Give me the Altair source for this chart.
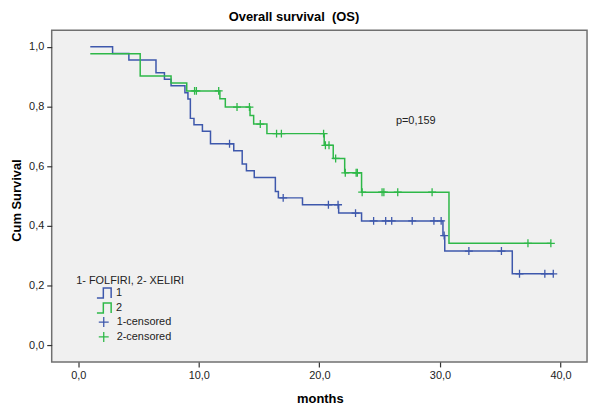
import altair as alt
import pandas as pd

# ---- data ----
groups = ["1", "2"]
censor_labels = ["1-censored", "2-censored"]
colors = ["#3E58AC", "#2EB848"]

start_t = [1.0, 1.0]
start_s = [1.0, 0.976]

# group 1 (FOLFIRI): event times and survival after each event
g1_event_t = [2.85, 4.2, 6.45, 7.15, 7.7, 8.85, 9.1, 9.3, 9.6, 10.3, 10.97,
              12.9, 13.6, 13.95, 14.6, 16.35, 16.6, 18.6, 21.6, 23.5, 30.25,
              30.4, 36.0]
g1_event_s = [0.977, 0.955, 0.913, 0.891, 0.869, 0.846, 0.825, 0.760, 0.739,
              0.717, 0.675, 0.652, 0.607, 0.585, 0.562, 0.515, 0.494, 0.471,
              0.443, 0.417, 0.368, 0.316, 0.240]
g1_censor_t = [12.55, 17.0, 20.75, 21.55, 23.0, 24.5, 25.5, 26.0, 27.7, 29.5,
               30.1, 30.35, 32.4, 35.1, 36.6, 38.7, 39.4]

# group 2 (XELIRI)
g2_event_t = [5.14, 7.7, 9.0, 11.75, 12.2, 14.25, 14.55, 15.65, 20.4, 21.15,
              22.1, 23.5, 30.75]
g2_event_s = [0.902, 0.878, 0.852, 0.826, 0.798, 0.770, 0.741, 0.709, 0.670,
              0.626, 0.578, 0.513, 0.342]
g2_censor_t = [9.65, 9.8, 11.65, 13.17, 14.2, 15.1, 16.45, 16.85, 20.35, 20.5,
               20.8, 21.35, 22.15, 23.05, 23.15, 23.55, 25.2, 25.35, 26.5,
               29.35, 37.3, 39.2]

p_text = ["p=0,159"]
p_x = [26.35]
p_y = [0.751]

x_ticks = [0, 10, 20, 30, 40]
y_ticks = [0.0, 0.2, 0.4, 0.6, 0.8, 1.0]

# ---- tables ----
ev_t = [g1_event_t, g2_event_t]
ev_s = [g1_event_s, g2_event_s]
cen_t = [g1_censor_t, g2_censor_t]

line_rows, cens_rows = [], []
for i, g in enumerate(groups):
    pts = [(start_t[i], start_s[i])] + list(zip(ev_t[i], ev_s[i]))
    end_t = max(cen_t[i] + ev_t[i])
    pts.append((end_t, ev_s[i][-1]))
    for t, s in pts:
        line_rows.append({"time": t, "surv": s, "group": g})
    for ct in cen_t[i]:
        lvl = start_s[i]
        for et, es in zip(ev_t[i], ev_s[i]):
            if et <= ct:
                lvl = es
        cens_rows.append({"time": ct, "surv": lvl, "label": censor_labels[i]})

line_df = pd.DataFrame(line_rows)
cens_df = pd.DataFrame(cens_rows)
p_df = pd.DataFrame({"x": p_x, "y": p_y, "label": p_text})

FONT = "Liberation Sans"
step_path = "M-1,0.7L-0.1,0.7L-0.1,-0.7L1,-0.7L1,0.7"
plus_path = "M-1,0L1,0M0,-1L0,1"
label_expr = "replace(format(datum.value, '.1f'), '.', ',')"

x_scale = alt.Scale(domain=[-2.2, 42.2], nice=False, zero=False)
y_scale = alt.Scale(domain=[-0.055, 1.055], nice=False, zero=False)

x_enc = alt.X("time:Q", scale=x_scale,
              axis=alt.Axis(title="months", values=x_ticks, labelExpr=label_expr,
                            titleX=270, titleY=37, titleBaseline="middle",
                            titleAlign="center"))
y_enc = alt.Y("surv:Q", scale=y_scale,
              axis=alt.Axis(title="Cum Survival", values=y_ticks, labelExpr=label_expr,
                            titleX=-35.6, titleY=171, titleBaseline="middle",
                            titleAlign="center", titleAngle=270))

lines = alt.Chart(line_df).mark_line(interpolate="step-after", strokeWidth=1.5).encode(
    x=x_enc,
    y=y_enc,
    color=alt.Color("group:N",
                    scale=alt.Scale(domain=groups, range=colors),
                    legend=alt.Legend(title="1- FOLFIRI, 2- XELIRI", orient="none",
                                      legendX=24.7, legendY=246.5,
                                      symbolType=step_path, symbolSize=205,
                                      symbolOffset=20, labelOffset=4,
                                      symbolStrokeWidth=1.5, rowPadding=0,
                                      clipHeight=14.3, titlePadding=0)),
)

cens = alt.Chart(cens_df).mark_point(shape=plus_path, filled=False, size=64,
                                     strokeWidth=1.3, opacity=1).encode(
    x=alt.X("time:Q", scale=x_scale),
    y=alt.Y("surv:Q", scale=y_scale),
    color=alt.Color("label:N",
                    scale=alt.Scale(domain=censor_labels, range=colors),
                    legend=alt.Legend(title=None, orient="none",
                                      legendX=46.4, legendY=286.5,
                                      symbolType=plus_path, symbolSize=100,
                                      symbolOffset=0, labelOffset=7,
                                      symbolStrokeWidth=1.3, rowPadding=0,
                                      clipHeight=14.7)),
)

ptext = alt.Chart(p_df).mark_text(align="left", baseline="middle", fontSize=11,
                                  font=FONT, color="#222").encode(
    x=alt.X("x:Q", scale=x_scale),
    y=alt.Y("y:Q", scale=y_scale),
    text="label:N",
)

chart = alt.layer(lines, cens, ptext).resolve_scale(color="independent").properties(
    width=539,
    height=334,
    background="white",
    autosize=alt.AutoSizeParams(type="none"),
    padding={"left": 44, "top": 21, "right": 5, "bottom": 45},
    title=alt.TitleParams(text="Overall survival \u00a0(OS)", font=FONT, fontSize=13,
                          fontWeight="bold", color="#000", anchor="middle",
                          dx=-25.6, dy=13, offset=9, baseline="alphabetic"),
).configure_view(
    fill="#F0F0F0", stroke="#707070", strokeWidth=1.5
).configure_axis(
    grid=False, domain=False, labelFont=FONT, labelFontSize=11, labelColor="#222",
    tickColor="#333", tickSize=5, tickWidth=1.2, labelPadding=3,
    titleFont=FONT, titleFontSize=13, titleFontWeight="bold", titleColor="#000",
).configure_legend(
    labelFont=FONT, labelFontSize=11, labelColor="#222",
    titleFont=FONT, titleFontSize=11, titleFontWeight="normal", titleColor="#222",
)

chart.save("out.html", embed_options={"renderer": "svg", "actions": False})
